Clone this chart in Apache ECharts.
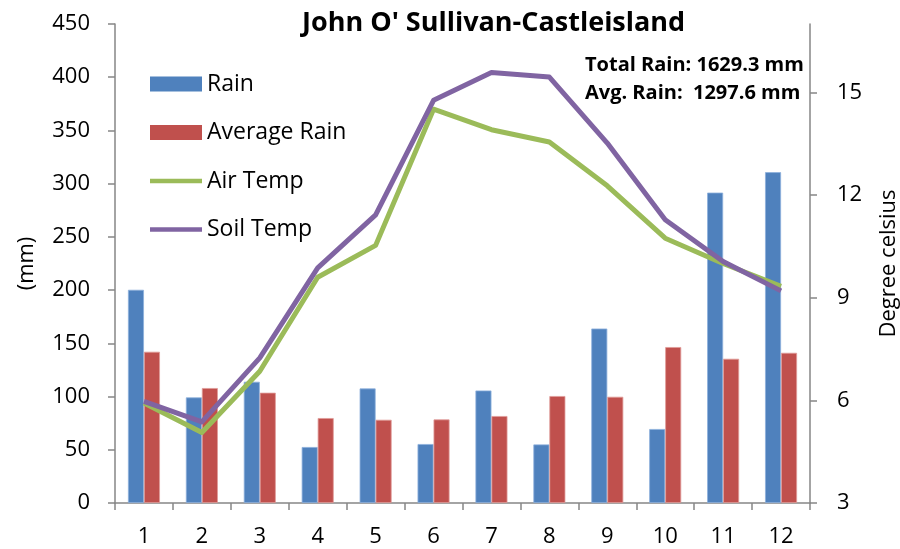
<!DOCTYPE html>
<html><head><meta charset="utf-8">
<script src="https://cdn.jsdelivr.net/npm/echarts@6/dist/echarts.min.js"></script>
<style>html,body{margin:0;padding:0;background:#fff}#c{width:900px;height:549px}</style>
</head><body><div id="c"></div>
<script>
const months = ['1','2','3','4','5','6','7','8','9','10','11','12'];
const rain = [200.3, 99.2, 113.9, 52.6, 107.6, 55.4, 105.7, 55.0, 163.9, 69.5, 291.6, 310.8];
const avgRain = [142.1, 108.0, 103.6, 79.8, 78.2, 78.5, 81.7, 100.5, 99.8, 146.5, 135.5, 141.1];
const airTemp = [5.92, 5.06, 6.85, 9.6, 10.53, 14.51, 13.91, 13.55, 12.27, 10.74, 10.0, 9.33];
const soilTemp = [5.97, 5.37, 7.24, 9.87, 11.42, 14.77, 15.58, 15.45, 13.52, 11.28, 10.06, 9.2];
const rightTicks = [3, 6, 9, 12, 15];
const titleText = "John O' Sullivan-Castleisland";
const noteLines = ['Total Rain: 1629.3 mm', 'Avg. Rain:  1297.6 mm'];

const FONT = 'Open Sans';
const axisGray = '#868686';
const lineIcon = 'path://M0,0M52,15M0,5.25H52V9.75H0Z';
const chart = echarts.init(document.getElementById('c'), null, {renderer: 'canvas'});
chart.setOption({
  animation: false,
  backgroundColor: '#fff',
  title: {
    text: titleText, left: 302, top: 10, padding: 0,
    textStyle: {fontFamily: FONT, fontSize: 27, fontWeight: 'bold', color: '#000'}
  },
  graphic: [
    {type: 'text', left: 585, top: 55, style: {text: noteLines[0], font: 'bold 20px "Open Sans"', fill: '#000'}},
    {type: 'text', left: 585, top: 83, style: {text: noteLines[1], font: 'bold 20px "Open Sans"', fill: '#000'}}
  ],
  legend: {
    orient: 'vertical', left: 150, top: 72, padding: 0,
    itemWidth: 52, itemHeight: 15, itemGap: 24.5, itemTextGap: 6,
    textStyle: {fontFamily: FONT, fontSize: 23, color: '#000', lineHeight: 24},
    data: [
      {name: 'Rain', icon: 'rect', itemStyle: {borderWidth: 0}},
      {name: 'Average Rain', icon: 'rect', itemStyle: {borderWidth: 0}},
      {name: 'Air Temp', icon: lineIcon},
      {name: 'Soil Temp', icon: lineIcon}
    ]
  },
  grid: {left: 115, right: 90, top: 24, bottom: 46, containLabel: false, outerBoundsMode: 'none'},
  xAxis: {
    type: 'category', data: months, boundaryGap: true,
    axisLine: {lineStyle: {color: axisGray, width: 1.5}},
    axisTick: {show: true, length: 7, lineStyle: {color: axisGray, width: 1.5}},
    axisLabel: {fontFamily: FONT, fontSize: 22, color: '#000', margin: 23}
  },
  yAxis: [
    {
      type: 'value', min: 0, max: 450, interval: 50, name: '(mm)',
      nameLocation: 'middle', nameGap: 77,
      nameTextStyle: {fontFamily: FONT, fontSize: 22, color: '#000'},
      axisLine: {show: true, lineStyle: {color: axisGray, width: 1.5}},
      axisTick: {show: true, length: 7, lineStyle: {color: axisGray, width: 1.5}},
      axisLabel: {fontFamily: FONT, fontSize: 22, color: '#000', margin: 25},
      splitLine: {show: false}
    },
    {
      type: 'value', min: 3, max: 17, interval: 3, name: 'Degree celsius', position: 'right',
      nameLocation: 'middle', nameGap: 68,
      nameTextStyle: {fontFamily: FONT, fontSize: 22, color: '#000'},
      axisLine: {show: true, lineStyle: {color: axisGray, width: 1.5}},
      axisTick: {show: true, length: 7, customValues: rightTicks, lineStyle: {color: axisGray, width: 1.5}},
      axisLabel: {fontFamily: FONT, fontSize: 22, color: '#000', margin: 27, customValues: rightTicks},
      splitLine: {show: false}
    }
  ],
  series: [
    {name: 'Rain', type: 'bar', data: rain, barWidth: 16, barGap: '0%',
     itemStyle: {color: '#4F81BD', borderColor: '#8DB0DC', borderWidth: 0.8}},
    {name: 'Average Rain', type: 'bar', data: avgRain, barWidth: 16, barGap: '0%',
     itemStyle: {color: '#C0504D', borderColor: '#E09A98', borderWidth: 0.8}},
    {name: 'Air Temp', type: 'line', yAxisIndex: 1, data: airTemp, symbol: 'none',
     lineStyle: {color: '#9BBB59', width: 5, join: 'round'}, itemStyle: {color: '#9BBB59'}, z: 3},
    {name: 'Soil Temp', type: 'line', yAxisIndex: 1, data: soilTemp, symbol: 'none',
     lineStyle: {color: '#8064A2', width: 5, join: 'round'}, itemStyle: {color: '#8064A2'}, z: 4}
  ]
});
</script>
</body></html>
